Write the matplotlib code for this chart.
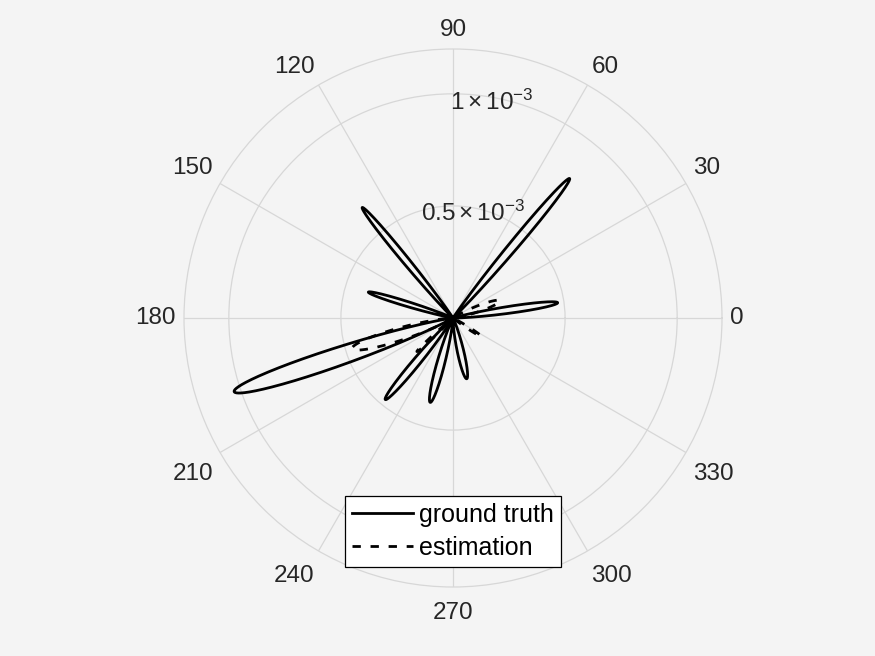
import numpy as np
import matplotlib
matplotlib.use("Agg")
import matplotlib.pyplot as plt
from matplotlib.lines import Line2D

plt.rcParams['font.family'] = ['Liberation Sans', 'DejaVu Sans']
plt.rcParams['mathtext.fontset'] = 'custom'
plt.rcParams['mathtext.rm'] = 'Liberation Sans'
plt.rcParams['mathtext.it'] = 'Liberation Sans:italic'

# ---- data (lobes) ----
truth_angles_deg = [50.1, 129.4, 163.0, 8.3, 198.6, 230.3, 254.9, 282.7]
truth_amps = [0.811e-3, 0.638e-3, 0.395e-3, 0.472e-3, 1.03e-3, 0.473e-3, 0.39e-3, 0.278e-3]
truth_widths_deg = [3.3, 3.2, 3.8, 4.4, 5.4, 4.8, 6.0, 7.0]

est_angles_deg = [20.2, 327.0, 196.9, 222.9]
est_amps = [0.223e-3, 0.153e-3, 0.47e-3, 0.22e-3]
est_widths_deg = [8.0, 4.0, 8.0, 3.0]

theta_ticks = [0, 30, 60, 90, 120, 150, 180, 210, 240, 270, 300, 330]
r_ticks = [0.5e-3, 1e-3]
r_tick_labels = [r'$\mathrm{0.5\times10^{-3}}$', r'$\mathrm{1\times10^{-3}}$']
r_max = 1.2e-3
series_labels = ['ground truth', 'estimation']

bg = '#f4f4f4'
txt = '#262626'
gridc = '#d7d7d7'


def lobe_curve(th, angles, amps, widths):
    r = np.zeros_like(th)
    for a, A, w in zip(angles, amps, widths):
        d = np.angle(np.exp(1j * (th - np.deg2rad(a))))
        r += A * np.exp(-(d / np.deg2rad(w)) ** 2)
    return r


th = np.linspace(0, 2 * np.pi, 6000)
r_truth = lobe_curve(th, truth_angles_deg, truth_amps, truth_widths_deg)
r_est = lobe_curve(th, est_angles_deg, est_amps, est_widths_deg)

fig = plt.figure(figsize=(8.75, 6.56), dpi=100, facecolor=bg)
ax = fig.add_axes([184 / 875, 69 / 656, 538 / 875, 538 / 656], projection='polar')
ax.set_facecolor(bg)

ax.plot(th, r_truth, color='black', lw=2.0, solid_joinstyle='round')
ax.plot(th, r_est, color='black', lw=2.0, dashes=(3, 3.5))

ax.set_ylim(0, r_max)
ax.set_yticks(r_ticks)
ax.set_yticklabels([])
ax.set_xticks(np.deg2rad(theta_ticks))
ax.set_xticklabels([])
ax.grid(True, color=gridc, lw=0.9)
ax.spines['polar'].set_color(gridc)
ax.spines['polar'].set_linewidth(0.9)

# radial tick labels (MATLAB style at 80 deg, centred)
for rv, lab in zip(r_ticks, r_tick_labels):
    ax.annotate(lab, xy=(np.deg2rad(80), rv), xytext=(0, -4), textcoords='offset points',
                ha='center', va='center', fontsize=17.5, color=txt, annotation_clip=False)

# theta tick labels placed like MATLAB
r_lab = r_max * 277 / 269
for t in theta_ticks:
    c, s = np.cos(np.deg2rad(t)), np.sin(np.deg2rad(t))
    ha = 'center' if abs(c) < 1e-6 else ('left' if c > 0 else 'right')
    va = 'center' if abs(s) < 1e-6 else ('bottom' if s > 0 else 'top')
    dy = -5 if s < -1e-6 else 0
    ax.annotate(str(t), xy=(np.deg2rad(t), r_lab), xytext=(0, dy), textcoords='offset points',
                ha=ha, va=va, fontsize=17.5, color=txt, annotation_clip=False)

handles = [Line2D([], [], color='black', lw=2.0),
           Line2D([], [], color='black', lw=2.0, dashes=(3, 3.5))]
leg = ax.legend(handles, series_labels, loc='center', bbox_to_anchor=(0.5, 0.103),
                bbox_transform=ax.transAxes, fontsize=18, frameon=True,
                fancybox=False, handlelength=2.45, handletextpad=0.25,
                borderpad=0.29, labelspacing=0.36, borderaxespad=0)
leg.get_frame().set_edgecolor('black')
leg.get_frame().set_linewidth(0.9)
leg.get_frame().set_facecolor('white')
leg.get_frame().set_alpha(1)

fig.savefig('out.png', dpi=100, facecolor=bg)
